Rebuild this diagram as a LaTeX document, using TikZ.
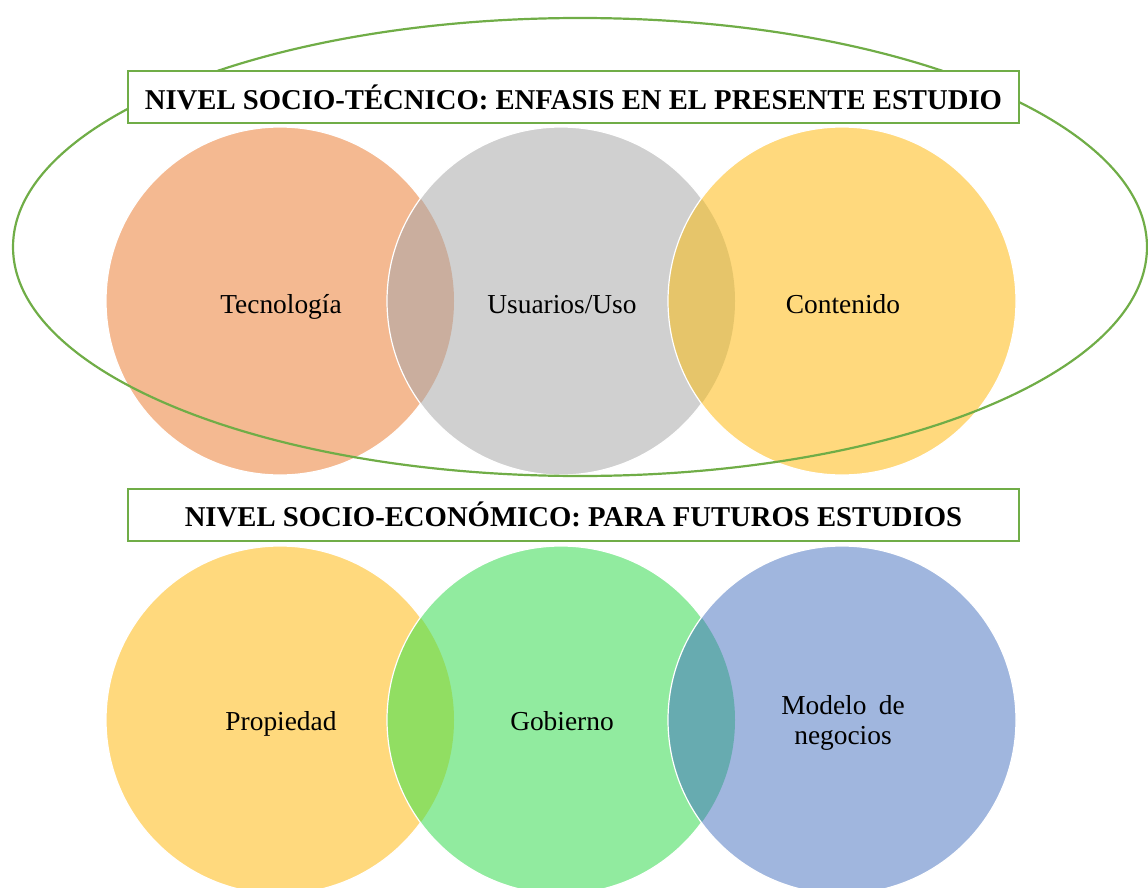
\documentclass[tikz,border=0pt]{standalone}
\usepackage{fontspec}
\setmainfont{Liberation Serif}
\definecolor{cTec}{HTML}{F4B991}
\definecolor{cUso}{HTML}{D0D0D0}
\definecolor{cCon}{HTML}{FFD97D}
\definecolor{oTU}{HTML}{CAAE9E}
\definecolor{oUC}{HTML}{E6C56A}
\definecolor{cPro}{HTML}{FFD97D}
\definecolor{cGob}{HTML}{91EB9F}
\definecolor{cMod}{HTML}{A0B6DE}
\definecolor{oPG}{HTML}{91DE62}
\definecolor{oGM}{HTML}{67ABB0}
\definecolor{lineGreen}{HTML}{70AD47}
\tikzset{
  venn/.style={draw=white, line width=1.2bp},
  ring/.style={draw=lineGreen, line width=2.2bp},
  titlebox/.style={draw=lineGreen, line width=2bp, fill=white, minimum width=891bp, minimum height=52bp, inner sep=0pt, font=\fontsize{28.8}{32}\selectfont\bfseries},
  lbl/.style={font=\fontsize{27.5}{30}\selectfont, align=center, inner sep=0pt}
}
\begin{document}
\begin{tikzpicture}[x=1bp,y=-1bp]
\useasboundingbox (0,0) rectangle (1148,888);
\clip (0,0) rectangle (1148,888);
\def\R{174}
% top row
\fill[cTec] (280,301) circle (\R);
\draw[venn] (280,301) circle (\R);
\fill[cUso] (561,301) circle (\R);
\begin{scope}\clip (280,301) circle (\R); \fill[oTU] (561,301) circle (\R);\end{scope}
\draw[venn] (561,301) circle (\R);
\fill[cCon] (842,301) circle (\R);
\begin{scope}\clip (561,301) circle (\R); \fill[oUC] (842,301) circle (\R);\end{scope}
\draw[venn] (842,301) circle (\R);
% bottom row
\fill[cPro] (280,720) circle (\R);
\draw[venn] (280,720) circle (\R);
\fill[cGob] (561,720) circle (\R);
\begin{scope}\clip (280,720) circle (\R); \fill[oPG] (561,720) circle (\R);\end{scope}
\draw[venn] (561,720) circle (\R);
\fill[cMod] (842,720) circle (\R);
\begin{scope}\clip (561,720) circle (\R); \fill[oGM] (842,720) circle (\R);\end{scope}
\draw[venn] (842,720) circle (\R);
% ellipse
\draw[ring] (580,247) ellipse [x radius=567, y radius=229];
% boxes
\node[titlebox] (t1) at (573.5,97) {NIVEL SOCIO-TÉCNICO: ENFASIS EN EL PRESENTE ESTUDIO};
\node[titlebox] (t2) at (573.5,514.5) {NIVEL SOCIO-ECONÓMICO: PARA FUTUROS ESTUDIOS};
% labels
\node[lbl, anchor=base] (tec) at (281,313) {Tecnología};
\node[lbl, anchor=base] (uso) at (562,313) {Usuarios/Uso};
\node[lbl, anchor=base] (con) at (843,313) {Contenido};
\node[lbl, anchor=base] (pro) at (281,730) {Propiedad};
\node[lbl, anchor=base] (gob) at (562,730) {Gobierno};
\node[lbl] (mod) at (843,723) {Modelo\hspace{0.45em}de\\negocios};
\end{tikzpicture}
\end{document}
